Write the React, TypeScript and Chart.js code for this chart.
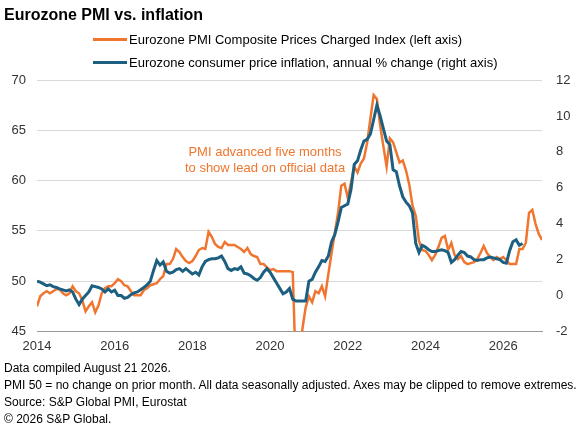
import React, { useRef, useEffect } from "react";
import { Chart, registerables } from "chart.js";

Chart.register(...registerables);

const START_YEAR = 2014;
const END_YEAR = 2027;
const yearTicks = [2014, 2016, 2018, 2020, 2022, 2024, 2026];

// monthly, Jan 2014 .. Jan 2027 (PMI shifted forward five months)
const pmiPricesCharged = [
  47.5, 48.5, 48.8, 49.0, 48.8, 49.0, 49.2, 49.2, 48.8, 48.6,
  48.8, 49.5, 49.0, 48.8, 48.1, 47.0, 47.5, 47.9, 46.9, 47.6,
  48.8, 49.3, 49.5, 49.5, 49.8, 50.2, 50.0, 49.6, 49.5, 49.0,
  48.6, 48.6, 48.6, 49.1, 49.3, 49.6, 49.7, 49.8, 50.2, 50.5,
  51.7, 51.7, 52.2, 53.2, 52.9, 52.4, 52.0, 51.8, 52.0, 52.5,
  53.1, 53.3, 53.2, 54.9, 54.4, 53.7, 53.4, 53.3, 53.9, 53.6,
  53.6, 53.6, 53.4, 53.2, 52.9, 53.3, 52.7, 52.5, 52.4, 51.7,
  51.7, 51.4, 51.1, 51.2, 51.0, 51.0, 51.0, 51.0, 51.0, 50.9,
  40.7, 41.0, 45.3, 47.4, 48.5, 47.9, 49.0, 48.8, 49.5, 48.5,
  50.7, 52.8, 54.8, 56.8, 59.5, 59.7, 58.3, 59.8, 61.4, 60.8,
  61.7, 62.2, 63.8, 66.2, 68.5, 68.1, 65.5, 63.4, 61.4, 64.2,
  63.8, 62.8, 61.8, 62.0, 61.0, 59.6, 57.5, 56.5, 54.0, 53.1,
  53.0, 52.6, 52.1, 52.6, 53.4, 54.3, 54.5, 53.1, 53.8, 52.6,
  52.2, 52.5, 51.9, 51.7, 51.8, 51.9, 52.2, 52.8, 53.5, 52.8,
  52.4, 52.1, 52.4, 52.2, 52.4, 52.1, 51.7, 51.7, 51.7, 53.2,
  53.2, 53.8, 56.8, 57.1, 55.7, 54.7, 54.1,
];

// monthly, Jan 2014 .. Jul 2026
const cpiInflation = [
  0.8, 0.75, 0.65, 0.55, 0.6, 0.5, 0.45, 0.37, 0.32, 0.26,
  0.32, 0.2, -0.2, -0.5, -0.2, 0.0, 0.2, 0.55, 0.5, 0.45,
  0.37, 0.2, 0.37, 0.2, 0.3, 0.0, 0.0, -0.15, -0.1, 0.05,
  0.15, 0.2, 0.32, 0.45, 0.6, 0.8, 1.4, 1.95, 1.7, 1.87,
  1.35, 1.25, 1.3, 1.45, 1.5, 1.35, 1.5, 1.35, 1.2, 1.3,
  1.15, 1.6, 1.9, 2.0, 2.05, 2.05, 2.1, 2.2, 1.9, 1.5,
  1.4, 1.5, 1.45, 1.6, 1.25, 1.2, 1.1, 0.95, 0.85, 1.0,
  1.3, 1.5, 1.3, 1.0, 0.7, 0.4, 0.1, 0.2, 0.4, -0.2,
  -0.3, -0.3, -0.3, -0.3, 0.8, 0.9, 1.3, 1.6, 1.95, 1.9,
  2.2, 3.0, 3.4, 4.1, 4.9, 5.0, 5.1, 5.9, 7.3, 7.5,
  8.1, 8.6, 8.7, 9.0, 9.8, 10.6, 10.0, 9.3, 8.6, 8.4,
  7.0, 6.9, 6.1, 5.5, 5.2, 5.0, 4.6, 2.9, 2.4, 2.8,
  2.7, 2.55, 2.45, 2.45, 2.5, 2.55, 2.5, 2.4, 1.85, 2.0,
  2.25, 2.45, 2.4, 2.2, 2.15, 2.0, 1.95, 2.0, 2.0, 2.1,
  2.15, 2.1, 2.05, 2.0, 1.85, 1.8, 2.5, 3.0, 3.1, 2.8,
  2.9,
];

const seriesLabels = [
  "Eurozone PMI Composite Prices Charged Index (left axis)",
  "Eurozone consumer price inflation, annual % change (right axis)",
];

const noteLines = ["PMI advanced five months", "to show lead on official data"];
const noteX = 2019.87;
const noteY = [62.8, 61.2];

const footnotes = [
  "Data compiled August 21 2026.",
  "PMI 50 = no change on prior month. All data seasonally adjusted. Axes may be clipped to remove extremes.",
  "Source: S&P Global PMI, Eurostat",
  "\u00a9 2026 S&P Global.",
];

const ORANGE = "#f0762f";
const BLUE = "#1d5f80";
const FONT = '"Liberation Sans", Arial, sans-serif';
const TICK_COLOR = "#333";

const toMonthly = (values: number[]) =>
  values.map((v, i) => ({ x: START_YEAR + i / 12, y: v }));

const leadNote = {
  id: "leadNote",
  afterDatasetsDraw(chart: Chart) {
    const { ctx, scales } = chart;
    const x = scales.x.getPixelForValue(noteX);
    ctx.save();
    ctx.font = `13px ${FONT}`;
    ctx.fillStyle = ORANGE;
    ctx.textAlign = "center";
    ctx.textBaseline = "middle";
    noteLines.forEach((line, i) => {
      ctx.fillText(line, x, scales.y.getPixelForValue(noteY[i]));
    });
    ctx.restore();
  },
};

function PmiInflationChart() {
  const chartRef = useRef<HTMLCanvasElement | null>(null);
  const chartInstance = useRef<Chart | null>(null);

  useEffect(() => {
    if (!chartRef.current) return;
    if (chartInstance.current) chartInstance.current.destroy();

    const tickFont = { family: FONT, size: 13 };

    chartInstance.current = new Chart(chartRef.current, {
      type: "line",
      data: {
        datasets: [
          {
            label: seriesLabels[0],
            data: toMonthly(pmiPricesCharged),
            yAxisID: "y",
            borderColor: ORANGE,
            borderWidth: 2.5,
            pointRadius: 0,
            tension: 0,
            order: 1,
            clip: 0,
          },
          {
            label: seriesLabels[1],
            data: toMonthly(cpiInflation),
            yAxisID: "y1",
            borderColor: BLUE,
            borderWidth: 3,
            pointRadius: 0,
            tension: 0,
            order: 0,
            clip: 0,
          },
        ],
      },
      options: {
        responsive: true,
        maintainAspectRatio: false,
        animation: false,
        layout: { padding: { top: 80, bottom: 67.5, left: 0, right: 0 } },
        plugins: {
          legend: { display: false },
          tooltip: { enabled: false },
        },
        scales: {
          x: {
            type: "linear",
            min: START_YEAR,
            max: END_YEAR,
            afterBuildTicks: (axis: any) => {
              axis.ticks = yearTicks.map((v) => ({ value: v }));
            },
            afterFit: (scale: any) => {
              scale.height = 28;
            },
            ticks: {
              color: TICK_COLOR,
              font: tickFont,
              padding: 7,
              maxRotation: 0,
              autoSkip: false,
              callback: (value: any) => String(value),
            },
            grid: { display: false, drawTicks: false },
            border: { display: true, color: "#999", width: 1 },
          },
          y: {
            type: "linear",
            position: "left",
            min: 45,
            max: 70,
            afterFit: (scale: any) => {
              scale.width = 37;
            },
            ticks: { stepSize: 5, color: TICK_COLOR, font: tickFont, padding: 11 },
            grid: {
              drawTicks: false,
              lineWidth: 1,
              color: (c: any) => (c.tick && c.tick.value === 45 ? "rgba(0,0,0,0)" : "#d9d9d9"),
            },
            border: { display: false },
          },
          y1: {
            type: "linear",
            position: "right",
            min: -2,
            max: 12,
            afterFit: (scale: any) => {
              scale.width = 38;
            },
            ticks: { stepSize: 2, color: TICK_COLOR, font: tickFont, padding: 14 },
            grid: { display: false, drawTicks: false },
            border: { display: false },
          },
        },
      },
      plugins: [leadNote],
    });

    return () => {
      if (chartInstance.current) {
        chartInstance.current.destroy();
        chartInstance.current = null;
      }
    };
  }, []);

  return <canvas ref={chartRef} />;
}

export default function App() {
  const seriesColors = [ORANGE, BLUE];
  return (
    <div
      style={{
        position: "fixed",
        left: 0,
        top: 0,
        width: 580,
        height: 427,
        background: "#fff",
        fontFamily: FONT,
        color: "#000",
      }}
    >
      <div style={{ position: "absolute", inset: 0 }}>
        <PmiInflationChart />
      </div>
      <div
        style={{
          position: "absolute",
          left: 4,
          top: 4.5,
          fontSize: 16,
          fontWeight: "bold",
          lineHeight: "19px",
          whiteSpace: "nowrap",
        }}
      >
        Eurozone PMI vs. inflation
      </div>
      <div style={{ position: "absolute", left: 93, top: 28.5 }}>
        {seriesLabels.map((label, i) => (
          <div
            key={label}
            style={{ display: "flex", alignItems: "center", height: 22.5, fontSize: 13, whiteSpace: "nowrap" }}
          >
            <span
              style={{ display: "inline-block", width: 34, height: 3, background: seriesColors[i], marginRight: 2 }}
            />
            <span>{label}</span>
          </div>
        ))}
      </div>
      <div
        style={{
          position: "absolute",
          left: 4,
          top: 359.5,
          fontSize: 12,
          lineHeight: "17px",
          whiteSpace: "nowrap",
        }}
      >
        {footnotes.map((line) => (
          <div key={line}>{line}</div>
        ))}
      </div>
    </div>
  );
}
